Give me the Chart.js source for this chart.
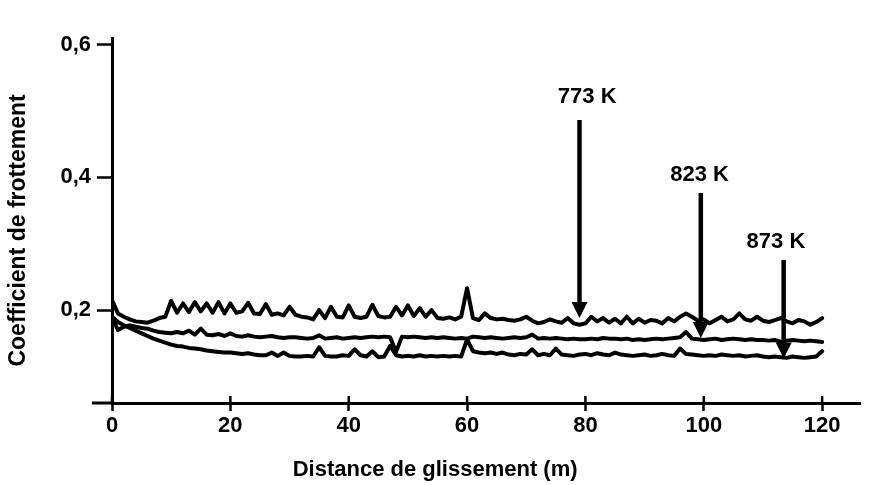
<!DOCTYPE html>
<html><head><meta charset="utf-8">
<script src="https://cdn.jsdelivr.net/npm/chart.js@4/dist/chart.umd.min.js"></script>
<style>html,body{margin:0;padding:0;background:#fff}#wrap{width:869px;height:485px}</style>
</head><body><div id="wrap"><canvas id="c" width="869" height="485"></canvas></div>
<script>
// Distance de glissement (m)
const distance = [0,1,2,3,4,5,6,7,8,9,10,11,12,13,14,15,16,17,18,19,20,21,22,23,24,25,26,27,28,29,30,31,32,33,34,35,36,37,38,39,40,41,42,43,44,45,46,47,48,49,50,51,52,53,54,55,56,57,58,59,60,61,62,63,64,65,66,67,68,69,70,71,72,73,74,75,76,77,78,79,80,81,82,83,84,85,86,87,88,89,90,91,92,93,94,95,96,97,98,99,100,101,102,103,104,105,106,107,108,109,110,111,112,113,114,115,116,117,118,119,120];
// Coefficient de frottement, 773 K (upper curve)
const cof773 = [0.215,0.195,0.19,0.186,0.183,0.182,0.181,0.184,0.188,0.19,0.214,0.196,0.21,0.197,0.212,0.198,0.21,0.196,0.212,0.195,0.21,0.196,0.198,0.211,0.195,0.194,0.209,0.193,0.195,0.192,0.205,0.193,0.19,0.189,0.186,0.2,0.188,0.205,0.19,0.189,0.207,0.19,0.188,0.19,0.208,0.191,0.189,0.19,0.205,0.192,0.207,0.191,0.203,0.19,0.2,0.188,0.187,0.189,0.186,0.19,0.233,0.188,0.185,0.195,0.188,0.186,0.187,0.185,0.184,0.186,0.19,0.184,0.18,0.182,0.186,0.183,0.181,0.188,0.18,0.178,0.18,0.19,0.183,0.188,0.181,0.187,0.18,0.19,0.18,0.187,0.181,0.185,0.184,0.18,0.188,0.183,0.19,0.195,0.19,0.184,0.186,0.18,0.185,0.19,0.183,0.186,0.195,0.186,0.184,0.19,0.184,0.182,0.185,0.188,0.183,0.18,0.185,0.183,0.178,0.182,0.188];
// Coefficient de frottement, 823 K (middle curve)
const cof823 = [0.19,0.17,0.175,0.177,0.175,0.173,0.172,0.169,0.167,0.166,0.165,0.167,0.165,0.169,0.163,0.172,0.163,0.162,0.164,0.161,0.165,0.161,0.16,0.162,0.16,0.159,0.16,0.161,0.159,0.158,0.159,0.159,0.158,0.157,0.158,0.162,0.157,0.158,0.159,0.157,0.158,0.159,0.158,0.159,0.16,0.159,0.16,0.159,0.137,0.16,0.159,0.16,0.159,0.158,0.159,0.158,0.159,0.158,0.157,0.158,0.157,0.16,0.159,0.158,0.159,0.158,0.157,0.158,0.159,0.158,0.159,0.163,0.157,0.158,0.157,0.158,0.157,0.156,0.157,0.156,0.156,0.157,0.156,0.158,0.157,0.157,0.156,0.157,0.155,0.156,0.155,0.156,0.157,0.156,0.157,0.158,0.159,0.167,0.157,0.156,0.155,0.156,0.157,0.155,0.156,0.157,0.156,0.155,0.156,0.155,0.155,0.154,0.155,0.152,0.154,0.155,0.154,0.153,0.154,0.153,0.152];
// Coefficient de frottement, 873 K (lower curve)
const cof873 = [0.19,0.182,0.177,0.173,0.169,0.165,0.161,0.157,0.154,0.151,0.148,0.146,0.145,0.143,0.142,0.141,0.139,0.138,0.137,0.136,0.136,0.135,0.134,0.135,0.133,0.132,0.132,0.136,0.131,0.136,0.131,0.13,0.13,0.131,0.13,0.144,0.131,0.13,0.13,0.132,0.131,0.141,0.132,0.13,0.138,0.129,0.13,0.146,0.132,0.13,0.131,0.13,0.132,0.13,0.131,0.13,0.131,0.13,0.131,0.13,0.156,0.138,0.136,0.135,0.136,0.134,0.136,0.133,0.132,0.134,0.133,0.141,0.132,0.134,0.132,0.142,0.133,0.132,0.131,0.133,0.134,0.132,0.135,0.133,0.132,0.136,0.133,0.132,0.131,0.132,0.133,0.131,0.132,0.134,0.132,0.131,0.142,0.134,0.133,0.132,0.131,0.132,0.131,0.133,0.132,0.131,0.132,0.13,0.131,0.132,0.13,0.129,0.13,0.129,0.128,0.13,0.129,0.128,0.129,0.13,0.138];

const xTicks = [0,20,40,60,80,100,120];
const xTickLabels = ['0','20','40','60','80','100','120'];
const yTicks = [0.2,0.4,0.6];
const yTickLabels = ['0,2','0,4','0,6'];

// Temperature arrows
const arrowLabels = ['773 K','823 K','873 K'];
const arrowX = [79,99.5,113.5];
const arrowTop = [0.4865,0.3765,0.2755];
const arrowTip = [0.188,0.158,0.127];
const labelX = [80.3,99.3,112.2];
const labelY = [0.521,0.4036,0.3026];

const xTitle = 'Distance de glissement (m)';
const xTitleCenter = 54.6;
const yTitle = 'Coefficient de frottement';
const yTitleCenter = 0.32;
const xAxisStart = -3.4;

const FONT = 'Liberation Sans, Arial, Helvetica, sans-serif';

const annot = {
  id: 'annot',
  afterDraw(chart) {
    const {ctx, chartArea} = chart;
    const x = chart.scales.x, y = chart.scales.y;
    ctx.save();
    ctx.strokeStyle = '#000'; ctx.fillStyle = '#000';
    const yb = chartArea.bottom;
    // x axis extension to the left of the y axis
    ctx.lineWidth = 3;
    ctx.beginPath(); ctx.moveTo(x.getPixelForValue(xAxisStart), yb); ctx.lineTo(chartArea.left, yb); ctx.stroke();
    // upper half of x tick marks
    ctx.lineWidth = 2.5;
    xTicks.forEach(v => { const px = x.getPixelForValue(v); ctx.beginPath(); ctx.moveTo(px, yb); ctx.lineTo(px, yb - 7); ctx.stroke(); });
    // arrows
    for (let i = 0; i < arrowX.length; i++) {
      const px = x.getPixelForValue(arrowX[i]);
      const pt = y.getPixelForValue(arrowTop[i]);
      const pb = y.getPixelForValue(arrowTip[i]);
      ctx.lineWidth = 4.5;
      ctx.beginPath(); ctx.moveTo(px, pt); ctx.lineTo(px, pb - 12); ctx.stroke();
      ctx.beginPath(); ctx.moveTo(px - 8, pb - 16); ctx.lineTo(px + 8, pb - 16); ctx.lineTo(px, pb); ctx.closePath(); ctx.fill();
      ctx.font = 'bold 22px ' + FONT;
      ctx.textAlign = 'center'; ctx.textBaseline = 'middle';
      ctx.fillText(arrowLabels[i], x.getPixelForValue(labelX[i]), y.getPixelForValue(labelY[i]));
    }
    // x axis title
    ctx.font = 'bold 22px ' + FONT;
    ctx.textAlign = 'center'; ctx.textBaseline = 'middle';
    ctx.fillText(xTitle, x.getPixelForValue(xTitleCenter), 470);
    // y axis title
    ctx.translate(19, y.getPixelForValue(yTitleCenter));
    ctx.rotate(-Math.PI / 2);
    ctx.font = 'bold 23px ' + FONT;
    ctx.fillText(yTitle, 0, 0);
    ctx.restore();
  }
};

const mk = arr => distance.map((d, i) => ({x: d, y: arr[i]}));
const ds = (label, arr) => ({label, data: mk(arr), borderColor: '#000', borderWidth: 4, pointRadius: 0, tension: 0, fill: false, borderJoinStyle: 'round', borderCapStyle: 'round'});

new Chart(document.getElementById('c'), {
  type: 'line',
  data: {datasets: [ds('773 K', cof773), ds('823 K', cof823), ds('873 K', cof873)]},
  options: {
    responsive: false, animation: false,
    layout: {padding: {left: 0, right: 9, top: 38, bottom: 0}},
    plugins: {legend: {display: false}, tooltip: {enabled: false}},
    scales: {
      x: {
        type: 'linear', min: 0, max: 126.4,
        afterBuildTicks: s => { s.ticks = xTicks.map(v => ({value: v})); },
        afterFit: s => { s.height = 82; },
        grid: {drawOnChartArea: false, tickLength: 8, tickWidth: 2.5, color: '#000'},
        border: {display: true, color: '#000', width: 3},
        ticks: {color: '#000', font: {family: FONT, size: 22, weight: 'bold'}, padding: 2, maxRotation: 0, autoSkip: false,
          callback: (v) => { const k = xTicks.indexOf(v); return k >= 0 ? xTickLabels[k] : ''; }}
      },
      y: {
        min: 0.06, max: 0.61,
        afterBuildTicks: s => { s.ticks = yTicks.map(v => ({value: v})); },
        afterFit: s => { s.width = 112; },
        grid: {drawOnChartArea: false, tickLength: 15, tickWidth: 2.5, color: '#000'},
        border: {display: true, color: '#000', width: 3},
        ticks: {color: '#000', font: {family: FONT, size: 22, weight: 'bold'}, padding: 6, autoSkip: false,
          callback: (v) => { const k = yTicks.findIndex(t => Math.abs(t - v) < 1e-9); return k >= 0 ? yTickLabels[k] : ''; }}
      }
    }
  },
  plugins: [annot]
});
</script>
</body></html>
